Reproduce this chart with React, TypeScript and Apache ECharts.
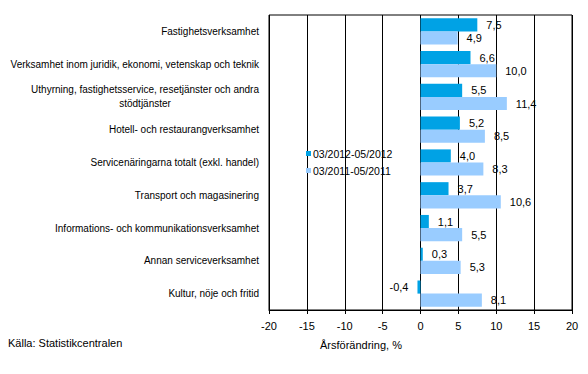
import React, { useEffect, useRef } from "react";
import * as echarts from "echarts";

const categories = [
  "Fastighetsverksamhet",
  "Verksamhet inom juridik, ekonomi, vetenskap och teknik",
  "Uthyrning, fastighetsservice, resetjänster och andra\nstödtjänster",
  "Hotell- och restaurangverksamhet",
  "Servicenäringarna totalt (exkl. handel)",
  "Transport och magasinering",
  "Informations- och kommunikationsverksamhet",
  "Annan serviceverksamhet",
  "Kultur, nöje och fritid",
];
const seriesNames = ["03/2012-05/2012", "03/2011-05/2011"];
const values2012 = [7.5, 6.6, 5.5, 5.2, 4.0, 3.7, 1.1, 0.3, -0.4];
const values2011 = [4.9, 10.0, 11.4, 8.5, 8.3, 10.6, 5.5, 5.3, 8.1];
const xTicks = { min: -20, max: 20, interval: 5 };
const axisTitle = "Årsförändring, %";
const sourceText = "Källa: Statistikcentralen";

const FONT = "Arial, 'Liberation Sans', sans-serif";
const fmt = (v: number) => v.toFixed(1).replace(".", ",");
const toData = (vals: number[]) =>
  vals.map((v) => (v < 0 ? { value: v, label: { position: "left" } } : { value: v }));

export default function App() {
  const ref = useRef<HTMLDivElement>(null);
  useEffect(() => {
    if (!ref.current) return;
    const chart = echarts.init(ref.current, null, { renderer: "svg" });
    const labelCfg = {
      show: true,
      position: "right",
      distance: 9,
      color: "#000",
      fontSize: 11,
      fontFamily: FONT,
      formatter: (p: any) => fmt(p.value),
    };
    chart.setOption({
      animation: false,
      backgroundColor: "#fff",
      textStyle: { fontFamily: FONT },
      grid: {
        left: 269,
        right: 16,
        top: 15,
        bottom: 64,
        show: true,
        borderColor: "#000",
        borderWidth: 1,
        containLabel: false,
      },
      legend: {
        orient: "vertical",
        left: 301,
        top: 143,
        itemWidth: 5,
        itemHeight: 5,
        itemGap: 6,
        icon: "rect",
        textStyle: { fontSize: 10.5, color: "#000", fontFamily: FONT, padding: [0, 0, 0, -3] },
        data: seriesNames,
      },
      xAxis: {
        type: "value",
        min: xTicks.min,
        max: xTicks.max,
        interval: xTicks.interval,
        axisLine: { show: true, onZero: false, lineStyle: { color: "#000" } },
        axisTick: { show: true, length: 4, lineStyle: { color: "#000" } },
        axisLabel: { color: "#000", fontSize: 11, fontFamily: FONT, margin: 10 },
        splitLine: { show: true, lineStyle: { color: "#000", width: 1 } },
      },
      yAxis: {
        type: "category",
        inverse: true,
        data: categories,
        axisLine: { show: false },
        axisTick: { show: false },
        axisLabel: {
          color: "#000",
          fontSize: 10,
          fontFamily: FONT,
          margin: 10,
          lineHeight: 14,
          formatter: (v: string) => {
            if (v.includes("\n")) {
              const [a, b] = v.split("\n");
              return `{a|${a}}\n{b|${b}}`;
            }
            return v;
          },
          rich: {
            a: { fontSize: 10, fontFamily: FONT, color: "#000", lineHeight: 14 },
            b: { fontSize: 10, fontFamily: FONT, color: "#000", lineHeight: 14, align: "center" },
          },
        },
        splitLine: { show: false },
      },
      series: [
        {
          name: seriesNames[0],
          type: "bar",
          data: toData(values2012),
          barGap: "0%",
          barCategoryGap: "20%",
          itemStyle: { color: "#00A2E5" },
          label: labelCfg,
        },
        {
          name: seriesNames[1],
          type: "bar",
          data: toData(values2011),
          barGap: "0%",
          barCategoryGap: "20%",
          itemStyle: { color: "#99CCFF" },
          label: labelCfg,
        },
      ],
      graphic: [
        {
          type: "text",
          left: 320,
          top: 339,
          style: { text: axisTitle, fontSize: 11, fontFamily: FONT, fill: "#000" },
        },
        {
          type: "text",
          left: 8,
          top: 337,
          style: { text: sourceText, fontSize: 11, fontFamily: FONT, fill: "#000" },
        },
      ],
    });
    return () => chart.dispose();
  }, []);
  return <div ref={ref} style={{ width: 588, height: 374, margin: -8 }} />;
}
